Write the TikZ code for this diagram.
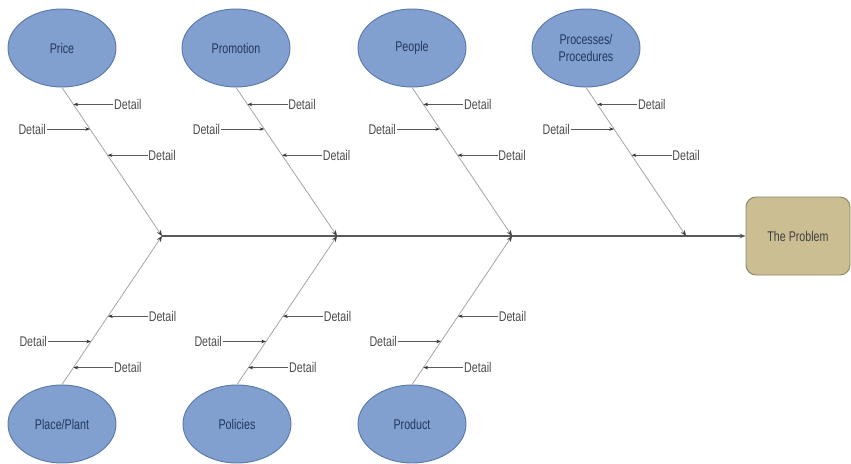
\documentclass[tikz,border=0pt]{standalone}
\usepackage{fontspec}
\setmainfont{Liberation Sans}
\newfontfamily\condsans[FakeStretch=0.76]{Liberation Sans}
\usetikzlibrary{positioning,shapes.geometric,arrows.meta}

\definecolor{causefill}{HTML}{819FCF}
\definecolor{causeline}{HTML}{5A79A8}
\definecolor{causetext}{HTML}{22385E}
\definecolor{probfill}{HTML}{CABE92}
\definecolor{probline}{HTML}{8E8566}

\tikzset{
  cause/.style={ellipse, draw=causeline, fill=causefill, line width=0.8pt,
    minimum width=32.4mm, minimum height=23.4mm, inner sep=0pt,
    text=causetext, align=center, font=\condsans\fontsize{12}{15}\selectfont},
  problem/.style={rectangle, rounded corners=3mm, draw=probline, fill=probfill,
    line width=0.8pt, minimum width=31.2mm, minimum height=23.4mm,
    text=black!75, font=\condsans\fontsize{12}{15}\selectfont},
  dtl/.style={inner sep=0.5pt, text=black!70, font=\condsans\fontsize{12}{15}\selectfont},
  bone/.style={draw=black!35, line width=0.7pt,
    -{Stealth[length=5pt,width=4pt,color=black!75]}},
  det/.style={draw=black!65, line width=0.7pt,
    -{Stealth[length=4pt,width=3pt,color=black!80]}},
  spine/.style={draw=black!65, line width=0.9pt,
    -{Stealth[length=5pt,width=4pt]}}
}

\begin{document}
\begin{tikzpicture}[x=0.3mm, y=-0.3mm]
  \useasboundingbox (0,0) rectangle (851,463);

  \coordinate (j1) at (162,236);
  \coordinate (j2) at (337,236);
  \coordinate (j3) at (512,236);
  \coordinate (j4) at (686,236);

  \node[problem] (prob) at (798,236) {The Problem};
  \draw[spine] (j1) -- (prob.west);

  % top causes
  \node[cause] (price) at (62,48) {Price};
  \node[cause] (promo) at (236,48) {Promotion};
  \node[cause] (people) at (412,48) {People};
  \node[cause] (proc) at (586,48) {Processes/\\Procedures};

  \draw[bone] (price.south) -- (j1) coordinate[pos=0.114] (pr1) coordinate[pos=0.28] (pr2) coordinate[pos=0.456] (pr3);
  \node[dtl, right=12mm of pr1] (pr1d) {Detail};
  \node[dtl, left=13mm of pr2] (pr2d) {Detail};
  \node[dtl, right=12mm of pr3] (pr3d) {Detail};
  \draw[det] (pr1d) -- (pr1);
  \draw[det] (pr2d) -- (pr2);
  \draw[det] (pr3d) -- (pr3);

  \draw[bone] (promo.south) -- (j2) coordinate[pos=0.114] (pm1) coordinate[pos=0.28] (pm2) coordinate[pos=0.456] (pm3);
  \node[dtl, right=12mm of pm1] (pm1d) {Detail};
  \node[dtl, left=13mm of pm2] (pm2d) {Detail};
  \node[dtl, right=12mm of pm3] (pm3d) {Detail};
  \draw[det] (pm1d) -- (pm1);
  \draw[det] (pm2d) -- (pm2);
  \draw[det] (pm3d) -- (pm3);

  \draw[bone] (people.south) -- (j3) coordinate[pos=0.114] (pe1) coordinate[pos=0.28] (pe2) coordinate[pos=0.456] (pe3);
  \node[dtl, right=12mm of pe1] (pe1d) {Detail};
  \node[dtl, left=13mm of pe2] (pe2d) {Detail};
  \node[dtl, right=12mm of pe3] (pe3d) {Detail};
  \draw[det] (pe1d) -- (pe1);
  \draw[det] (pe2d) -- (pe2);
  \draw[det] (pe3d) -- (pe3);

  \draw[bone] (proc.south) -- (j4) coordinate[pos=0.114] (pc1) coordinate[pos=0.28] (pc2) coordinate[pos=0.456] (pc3);
  \node[dtl, right=12mm of pc1] (pc1d) {Detail};
  \node[dtl, left=13mm of pc2] (pc2d) {Detail};
  \node[dtl, right=12mm of pc3] (pc3d) {Detail};
  \draw[det] (pc1d) -- (pc1);
  \draw[det] (pc2d) -- (pc2);
  \draw[det] (pc3d) -- (pc3);

  % bottom causes
  \node[cause] (place) at (62,424) {Place/Plant};
  \node[cause] (policy) at (237,424) {Policies};
  \node[cause] (product) at (412,424) {Product};

  \draw[bone] (place.north) -- (j1) coordinate[pos=0.114] (pl1) coordinate[pos=0.29] (pl2) coordinate[pos=0.46] (pl3);
  \node[dtl, right=12mm of pl1] (pl1d) {Detail};
  \node[dtl, left=13mm of pl2] (pl2d) {Detail};
  \node[dtl, right=12mm of pl3] (pl3d) {Detail};
  \draw[det] (pl1d) -- (pl1);
  \draw[det] (pl2d) -- (pl2);
  \draw[det] (pl3d) -- (pl3);

  \draw[bone] (policy.north) -- (j2) coordinate[pos=0.114] (po1) coordinate[pos=0.29] (po2) coordinate[pos=0.46] (po3);
  \node[dtl, right=12mm of po1] (po1d) {Detail};
  \node[dtl, left=13mm of po2] (po2d) {Detail};
  \node[dtl, right=12mm of po3] (po3d) {Detail};
  \draw[det] (po1d) -- (po1);
  \draw[det] (po2d) -- (po2);
  \draw[det] (po3d) -- (po3);

  \draw[bone] (product.north) -- (j3) coordinate[pos=0.114] (pd1) coordinate[pos=0.29] (pd2) coordinate[pos=0.46] (pd3);
  \node[dtl, right=12mm of pd1] (pd1d) {Detail};
  \node[dtl, left=13mm of pd2] (pd2d) {Detail};
  \node[dtl, right=12mm of pd3] (pd3d) {Detail};
  \draw[det] (pd1d) -- (pd1);
  \draw[det] (pd2d) -- (pd2);
  \draw[det] (pd3d) -- (pd3);
\end{tikzpicture}
\end{document}
